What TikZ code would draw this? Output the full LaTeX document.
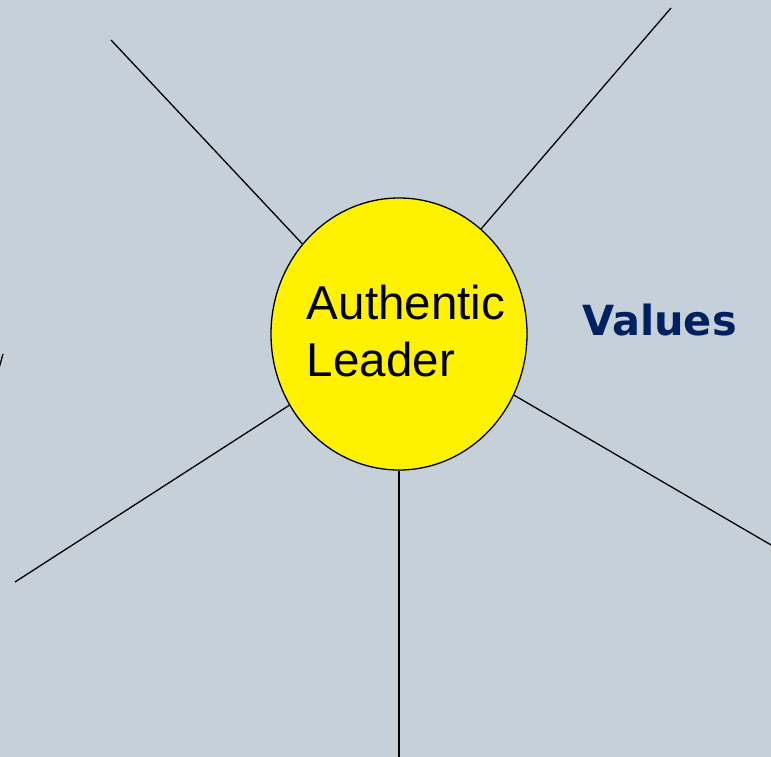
\documentclass[tikz,border=0pt]{standalone}
\usepackage{fontspec}
\setmainfont{Liberation Sans}
\newfontfamily\valuesfont{DejaVu Sans}
\usetikzlibrary{
  calc,
  positioning,
  shapes,
}
\tikzstyle{spoke} = [
  line width=1.3pt,
  black,
]
\definecolor{slidebg}{RGB}{197, 208, 216}
\definecolor{navyvalues}{RGB}{0, 32, 96}

\begin{document}
\begin{tikzpicture}[x=1pt,y=-1pt]

      \fill[slidebg] (0,0) rectangle (771,757);
      \useasboundingbox (0,0) rectangle (771,757);

      \node[ellipse,draw,line width=1.3pt,fill=yellow,minimum width=256,minimum height=272,inner sep=0] (leader) at (399,334) {};
      \node[align=left,inner sep=0,font=\fontsize{47.5}{57}\selectfont,xshift=7,yshift=3] (leadertext) at (leader.center) {Authentic\\Leader};
      \node[anchor=base west,inner sep=0,text=navyvalues,font=\valuesfont\bfseries\fontsize{41.5}{48}\selectfont] (values) at (582,335) {Values};

      \coordinate (topleft)  at (111,40);
      \coordinate (topright) at (671,8);
      \coordinate (right)    at (790,556);
      \coordinate (bottom)   at (399,770);
      \coordinate (botleft)  at (15,582);
      \coordinate (edgeA)    at (-2,372);
      \coordinate (edgeB)    at (3,354);

      \draw[spoke] (topleft) -- (leader.137);
      \draw[spoke] (topright) -- (leader.52);
      \draw[spoke] (right) -- (leader.-28);
      \draw[spoke] (bottom) -- (leader.-90);
      \draw[spoke] (botleft) -- (leader.213);
      \draw[spoke] (edgeA) -- (edgeB);
    \end{tikzpicture}
\end{document}
